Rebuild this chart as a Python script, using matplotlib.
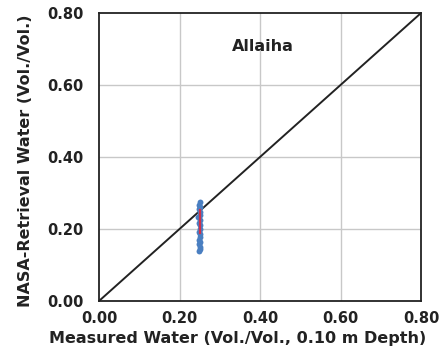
import matplotlib
matplotlib.use("Agg")
import matplotlib.pyplot as plt

# Data
measured = [0.250, 0.248, 0.251, 0.249, 0.252, 0.250, 0.247, 0.251, 0.249, 0.250,
            0.252, 0.248, 0.250, 0.251, 0.249, 0.250, 0.248, 0.251, 0.250, 0.249]
retrieved = [0.275, 0.268, 0.262, 0.255, 0.248, 0.240, 0.232, 0.226, 0.218, 0.210,
             0.200, 0.192, 0.185, 0.178, 0.170, 0.163, 0.157, 0.150, 0.145, 0.140]
red_x = [0.250, 0.250]
red_y = [0.190, 0.252]
one_to_one = [0.0, 0.8]
ticks = [0.0, 0.2, 0.4, 0.6, 0.8]
tick_labels = ["0.00", "0.20", "0.40", "0.60", "0.80"]

plt.rcParams['font.family'] = ['DejaVu Sans']
fig = plt.figure(figsize=(4.4, 3.5), dpi=100)
ax = fig.add_axes([0.225, 0.14, 0.732, 0.823])

for t in ticks[1:-1]:
    ax.axvline(t, color='#c8c8c8', lw=1, zorder=0)
    ax.axhline(t, color='#c8c8c8', lw=1, zorder=0)

ax.plot(one_to_one, one_to_one, color='#222222', lw=1.4, zorder=2)
ax.scatter(measured, retrieved, s=18, color='#4a7fc1', zorder=3, linewidths=0)
ax.plot(red_x, red_y, color='#d0304a', lw=1.6, zorder=4)

ax.text(0.407, 0.706, 'Allaiha', fontsize=11.5, fontweight='bold', ha='center', va='center', color='#222222')

ax.set_xlim(0, 0.8)
ax.set_ylim(0, 0.8)
ax.set_xticks(ticks)
ax.set_yticks(ticks)
ax.set_xticklabels(tick_labels, fontsize=10.5, fontweight='bold', color='#222222')
ax.set_yticklabels(tick_labels, fontsize=10.5, fontweight='bold', color='#222222')
ax.tick_params(axis='y', length=0, pad=11)
ax.tick_params(axis='x', length=0, pad=7)
for s in ax.spines.values():
    s.set_linewidth(1.3)
    s.set_color('#222222')

ax.set_xlabel('Measured Water (Vol./Vol., 0.10 m Depth)', fontsize=11.5, fontweight='bold', color='#222222', va='center')
ax.xaxis.set_label_coords(0.43, -0.13)
ax.set_ylabel('NASA-Retrieval Water (Vol./Vol.)', fontsize=11.5, fontweight='bold', color='#222222', va='center')
ax.yaxis.set_label_coords(-0.227, 0.486)

fig.savefig('out.png', dpi=100)
